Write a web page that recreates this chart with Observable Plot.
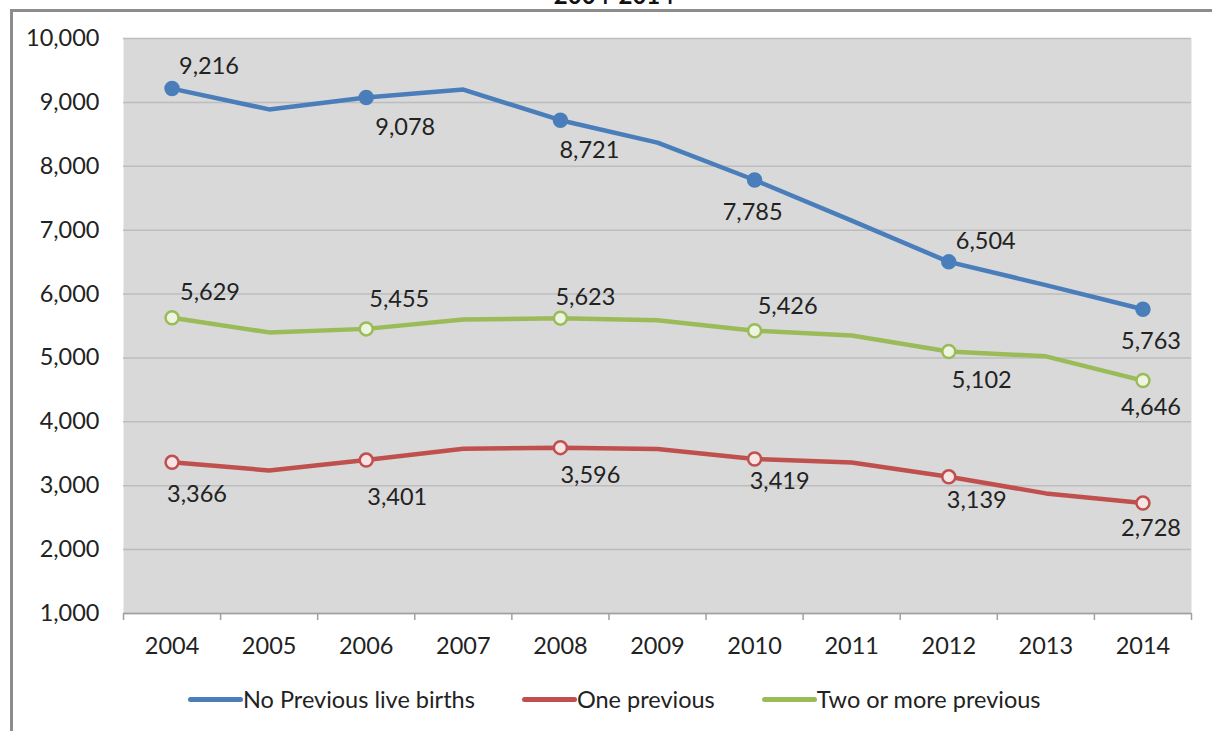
<!DOCTYPE html>
<html>
<head>
<meta charset="utf-8">
<script src="https://cdn.jsdelivr.net/npm/d3@7"></script>
<script src="https://cdn.jsdelivr.net/npm/@observablehq/plot@0.6"></script>
<style>
  html, body { margin: 0; padding: 0; background: #fff; overflow: hidden; }
  body { width: 1212px; height: 731px; position: relative; font-family: Lato, "Open Sans", sans-serif; color: #222; }
  #frame { position: absolute; left: 10px; top: 9px; width: 1300px; height: 800px;
           border-top: 3px solid #8c8c8c; border-left: 3px solid #8c8c8c; box-sizing: border-box; }
  #title { position: absolute; top: -17px; left: 0; width: 1228px; text-align: center;
           font-size: 24px; line-height: 24px; font-weight: bold; color: #111; }
  #chart { position: absolute; left: 0; top: 0; }
  #legend { position: absolute; left: 188px; top: 685px; display: flex; align-items: center; font-size: 23.5px; color: #222; }
  .item { display: flex; align-items: center; margin-right: 47px; }
  .swatch { width: 55px; height: 5px; border-radius: 3px; }
</style>
</head>
<body>
<div id="frame"></div>
<div id="title">2004-2014</div>
<div id="chart"></div>
<div id="legend"></div>
<script>
// Live births by number of previous live births, 2004-2014
const years = [2004, 2005, 2006, 2007, 2008, 2009, 2010, 2011, 2012, 2013, 2014];
const noPrevious = [9216, 8890, 9078, 9200, 8721, 8370, 7785, 7150, 6504, 6140, 5763];
const onePrevious = [3366, 3240, 3401, 3580, 3596, 3575, 3419, 3365, 3139, 2880, 2728];
const twoOrMore = [5629, 5400, 5455, 5600, 5623, 5590, 5426, 5350, 5102, 5025, 4646];
const seriesNames = ["No Previous live births", "One previous", "Two or more previous"];
const labelledYears = [2004, 2006, 2008, 2010, 2012, 2014];
const yTicks = [1000, 2000, 3000, 4000, 5000, 6000, 7000, 8000, 9000, 10000];

// Drawing styles per series
const styles = {
  "No Previous live births": {color: "#4a7ebb", markerFill: "#4a7ebb"},
  "One previous": {color: "#c0504d", markerFill: "#f7e4e4"},
  "Two or more previous": {color: "#9bbb59", markerFill: "#eef4e2"}
};
// Label offsets (pixels) from each marked point, per series, in labelledYears order
const labelOffsets = {
  "No Previous live births": [[37, -22], [39, 30], [29, 30], [-2, 32], [37, -20], [8, 32]],
  "One previous": [[25, 32], [31, 37], [30, 28], [25, 23], [28, 24], [8, 25]],
  "Two or more previous": [[38, -25], [33, -29], [25, -21], [33, -24], [33, 29], [8, 27]]
};

const valuesBySeries = [noPrevious, onePrevious, twoOrMore];
const rows = [];
seriesNames.forEach((s, i) => years.forEach((yr, j) => rows.push({series: s, year: yr, value: valuesBySeries[i][j]})));

const fmt = d3.format(",");
const boundaries = d3.range(years.length + 1).map(i => years[0] - 0.5 + i);
const FS = 23.5;

const marks = [
  Plot.frame({fill: "#d9d9d9", stroke: null}),
  Plot.gridY(yTicks, {stroke: "#bdbdbd", strokeOpacity: 1, strokeWidth: 1.5}),
  Plot.ruleY([1000], {stroke: "#a0a0a0", strokeWidth: 1.5}),
  Plot.axisX(boundaries, {tickSize: 7, tickFormat: () => "", label: null, stroke: "#a0a0a0", strokeWidth: 1.5}),
  Plot.axisX(years, {tickSize: 0, tickPadding: 24, tickFormat: d => String(d), label: null, fill: "#222", fontSize: FS}),
  Plot.axisY(yTicks, {tickSize: 0, tickPadding: 24, tickFormat: fmt, label: null, fill: "#222", fontSize: FS})
];

seriesNames.forEach(s => {
  const data = rows.filter(r => r.series === s);
  const pts = data.filter(r => labelledYears.includes(r.year));
  const st = styles[s];
  marks.push(Plot.line(data, {x: "year", y: "value", stroke: st.color, strokeWidth: 4.5, strokeLinejoin: "round"}));
  marks.push(Plot.dot(pts, {x: "year", y: "value", r: 6.5, fill: st.markerFill, stroke: st.color, strokeWidth: 2.5}));
  pts.forEach((p, k) => {
    const [dx, dy] = labelOffsets[s][k];
    marks.push(Plot.text([p], {x: "year", y: "value", text: d => fmt(d.value), dx, dy, fontSize: FS, fill: "#222"}));
  });
});

const chart = Plot.plot({
  width: 1212,
  height: 660,
  marginLeft: 123,
  marginRight: 21,
  marginTop: 38,
  marginBottom: 47,
  style: {fontFamily: "Lato, 'Open Sans', sans-serif", fontSize: FS + "px", background: "transparent", overflow: "visible"},
  x: {type: "linear", domain: [years[0] - 0.5, years[years.length - 1] + 0.5], axis: null},
  y: {domain: [1000, 10000], axis: null},
  marks
});
document.getElementById("chart").appendChild(chart);

const legend = document.getElementById("legend");
seriesNames.forEach(s => {
  const item = document.createElement("div");
  item.className = "item";
  const sw = document.createElement("div");
  sw.className = "swatch";
  sw.style.background = styles[s].color;
  const t = document.createElement("span");
  t.textContent = s;
  item.appendChild(sw);
  item.appendChild(t);
  legend.appendChild(item);
});
</script>
</body>
</html>
